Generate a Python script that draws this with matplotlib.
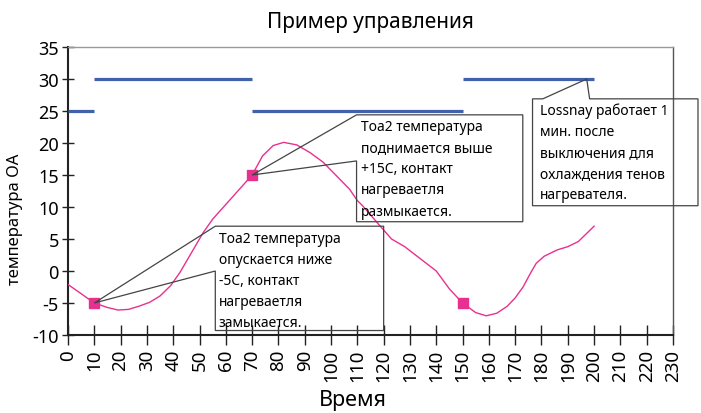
import matplotlib
matplotlib.use("Agg")
import matplotlib.pyplot as plt
from matplotlib.patches import Polygon

plt.rcParams['font.family'] = ['Noto Sans', 'DejaVu Sans']

# Data
title = "Пример управления"
xlabel = "Время"
ylabel = "температура ОА"

# heater state (blue) segments: start, end, level
seg_start = [0, 10, 70, 150]
seg_end = [10, 70, 150, 200]
seg_level = [25, 30, 25, 30]

# outdoor air temperature (pink)
t_x = [0, 10, 15, 19, 23, 27, 31, 35, 39, 42.6, 47, 51.4, 55, 60, 65, 70, 74, 78,
       82, 87, 92, 97, 102, 107, 110, 112, 118.5, 123, 128, 134, 140,
       145, 150, 155, 159, 163, 167, 170, 173, 176, 178, 181, 186, 190, 194, 197, 200]
t_y = [-2.1, -5, -5.7, -6.1, -6.0, -5.5, -4.9, -3.9, -2.3, -0.2, 2.9, 6.0, 8.1,
       10.4, 12.7, 15, 18.0, 19.6, 20.1, 19.7, 18.5, 17.0, 14.9, 12.8, 11.0, 10.2,
       7.1, 5.0, 3.8, 1.9, 0.0, -2.8, -5, -6.5, -7.0, -6.6, -5.5, -4.2, -2.5,
       -0.2, 1.2, 2.3, 3.3, 3.8, 4.6, 5.8, 7.0]

# switching points
sw_x = [10, 70, 150]
sw_y = [-5, 15, -5]

xticks = list(range(0, 231, 10))
yticks = list(range(-10, 36, 5))

note_low = "Toa2 температура\nопускается ниже\n-5C, контакт\nнагреваетля\nзамыкается."
note_high = "Toa2 температура\nподнимается выше\n+15C, контакт\nнагреваетля\nразмыкается."
note_loss = "Lossnay работает 1\nмин. после\nвыключения для\nохлаждения тенов\nнагревателя."

BLUE = "#4161ab"
PINK = "#e8318f"

fig = plt.figure(figsize=(7.01, 4.14), dpi=100)
ax = fig.add_axes([68/701, 78/414, 605/701, 288/414])

for s, e, lv in zip(seg_start, seg_end, seg_level):
    ax.plot([s, e], [lv, lv], color=BLUE, lw=2.3, solid_capstyle='butt', zorder=3)

ax.plot(t_x, t_y, color=PINK, lw=1.0, zorder=3)
ax.plot(sw_x, sw_y, linestyle='none', marker='s', ms=7.5, color=PINK, zorder=4)

ax.set_xlim(0, 230)
ax.set_ylim(-10, 35)
ax.set_xticks(xticks)
ax.set_yticks(yticks)
ax.set_xticklabels([str(v) for v in xticks], rotation=90, fontsize=13.5)
ax.set_yticklabels([str(v) for v in yticks], fontsize=13)
ax.tick_params(axis='y', direction='inout', length=9, width=1.0, color='#222222', pad=2)
ax.tick_params(axis='x', direction='inout', length=14, width=1.0, color='#222222', pad=3)

for side in ['left', 'bottom']:
    ax.spines[side].set_color('#222222')
    ax.spines[side].set_linewidth(1.5)
ax.spines['top'].set_color('#999999')
ax.spines['top'].set_linewidth(1.0)
ax.spines['right'].set_color('#555555')
ax.spines['right'].set_linewidth(1.0)

fig.text(0.528, 0.945, title, ha='center', va='center', fontsize=15)
fig.text(0.503, 0.032, xlabel, ha='center', va='center', fontsize=15.5)
fig.text(0.022, 0.47, ylabel, ha='center', va='center', rotation=90, fontsize=12)

def callout(anchor, notch_pts, text, tx, ty):
    pts = [anchor] + notch_pts
    poly = Polygon(pts, closed=True, fill=False, edgecolor='#444444',
                   lw=0.9, clip_on=False, zorder=5)
    ax.add_patch(poly)
    ax.text(tx, ty, text, ha='left', va='top', fontsize=10, linespacing=1.55,
            zorder=6, clip_on=False)

# lower callout
callout((10, -5),
        [(56, 7), (120, 7), (120, -9.3), (56, -9.3), (56, 0)],
        note_low, 57.3, 6.3)
# upper callout
callout((70, 15),
        [(109.7, 24.4), (172.9, 24.4), (172.9, 7.7), (109.7, 7.7), (109.7, 17.2)],
        note_high, 111.2, 23.7)
# lossnay callout
callout((197.2, 30),
        [(198.3, 26.9), (239.5, 26.9), (239.5, 10.2), (176.6, 10.2), (176.6, 26.9), (180.5, 26.9)],
        note_loss, 179.3, 26.3)

fig.savefig("out.png", dpi=100)
